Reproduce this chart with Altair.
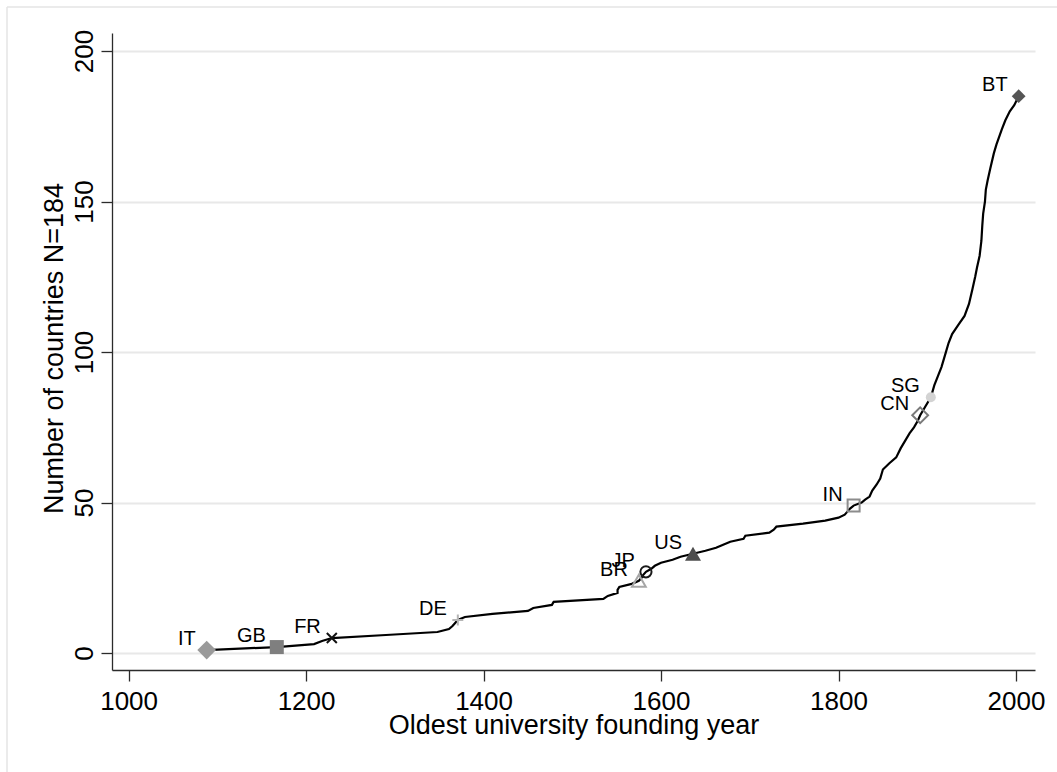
import altair as alt
import pandas as pd

# Cumulative number of countries against the founding year of each country's oldest university
curve_years = [1088, 1167, 1209, 1218, 1229, 1290, 1348, 1361, 1365, 1368, 1371, 1379, 1410,
               1450, 1456, 1477, 1479, 1535, 1540, 1551, 1551, 1553, 1567, 1575, 1578, 1580,
               1583, 1589, 1593, 1600, 1613, 1622, 1636, 1650, 1662, 1670, 1678, 1693, 1695,
               1722, 1727, 1730, 1760, 1785, 1800, 1807, 1810, 1813, 1817, 1826, 1830, 1835,
               1838, 1843, 1847, 1850, 1857, 1865, 1870, 1876, 1880, 1885, 1889, 1892, 1898,
               1904, 1908, 1912, 1916, 1919, 1921, 1924, 1928, 1935, 1942, 1947, 1951, 1954,
               1956, 1959, 1961, 1962, 1963, 1965, 1966, 1968, 1971, 1975, 1978, 1984, 1988,
               1993, 1998, 2003]
curve_counts = [1, 2, 3, 4, 5, 6, 7, 8, 9, 10, 11, 12, 13,
                14, 15, 16, 17, 18, 19, 20, 21, 22, 23, 24, 25, 26,
                27, 28, 29, 30, 31, 32, 33, 34, 35, 36, 37, 38, 39,
                40, 41, 42, 43, 44, 45, 46, 47, 48, 49, 50, 51, 52,
                54, 56, 58, 61, 63, 65, 68, 71, 73, 75, 77, 79, 82,
                85, 89, 92, 95, 98, 100, 103, 106, 109, 112, 116, 121, 125,
                128, 132, 137, 142, 146, 150, 154, 157, 161, 166, 169, 174, 177,
                180, 182, 185]

# Highlighted countries
codes = ["IT", "GB", "FR", "DE", "BR", "JP", "US", "IN", "CN", "SG", "BT"]
code_years = [1088, 1167, 1229, 1371, 1575, 1583, 1636, 1817, 1892, 1904, 2003]
code_counts = [1, 2, 5, 11, 24, 27, 33, 49, 79, 85, 185]

x_ticks = [1000, 1200, 1400, 1600, 1800, 2000]
y_ticks = [0, 50, 100, 150, 200]

curve = pd.DataFrame({"year": curve_years, "count": curve_counts})
marks = pd.DataFrame({"code": codes, "year": code_years, "count": code_counts})

FONT = "Liberation Sans"
AXIS_COLOR = "#2b2b2b"

X = alt.X(
    "year:Q",
    scale=alt.Scale(domain=[981.3, 2021.4], nice=False, zero=False),
    axis=alt.Axis(
        values=x_ticks, format="d", grid=False,
        labelFontSize=26, labelFont=FONT, labelColor="black",
        labelBaseline="alphabetic", labelPadding=28, labelFlush=False, labelOverlap=False,
        tickSize=11, tickColor=AXIS_COLOR, tickWidth=1.3,
        domainColor=AXIS_COLOR, domainWidth=1.3,
        title="Oldest university founding year", titleFontSize=27, titleFont=FONT,
        titleFontWeight="normal", titleColor="black",
        titleBaseline="alphabetic", titleY=63,
    ),
)
Y = alt.Y(
    "count:Q",
    scale=alt.Scale(domain=[-5.62, 206.0], nice=False, zero=False),
    axis=alt.Axis(
        values=y_ticks, format="d", grid=True, gridColor="#e8e8e8", gridWidth=2,
        labelFontSize=26, labelFont=FONT, labelColor="black",
        labelAngle=270, labelAlign="center", labelBaseline="alphabetic",
        labelPadding=9, labelFlush=False, labelOverlap=False,
        tickSize=11, tickColor=AXIS_COLOR, tickWidth=1.3,
        domainColor=AXIS_COLOR, domainWidth=1.3,
        title="Number of countries N=184", titleFontSize=27, titleFont=FONT,
        titleFontWeight="normal", titleColor="black",
        titleAngle=270, titleBaseline="alphabetic", titleX=-50, titleY=315,
    ),
)

# Light outer frame: only its left and top edges fall inside the figure
blank = alt.Data(values=[{}])
frame_left = alt.Chart(blank).mark_rule(stroke="#e4e4e4", strokeWidth=1.5).encode(
    x=alt.value(-105), y=alt.value(-26), y2=alt.value(760)
)
frame_top = alt.Chart(blank).mark_rule(stroke="#e4e4e4", strokeWidth=1.5).encode(
    x=alt.value(-105), x2=alt.value(960), y=alt.value(-26)
)

line = alt.Chart(curve).mark_line(color="black", strokeWidth=2.2).encode(x=X, y=Y)

X_PATH = "M-1,-1L1,1M-1,1L1,-1"
PLUS_PATH = "M-1,0L1,0M0,-1L0,1"

# shape, filled, colour, size
styles = {
    "IT": ("diamond", True, "#9a9a9a", 350),
    "GB": ("square", True, "#7f7f7f", 196),
    "FR": (X_PATH, False, "#111111", 100),
    "DE": (PLUS_PATH, False, "#b5b5b5", 120),
    "BR": ("triangle-up", False, "#a6a6a6", 190),
    "JP": ("circle", False, "#1a1a1a", 125),
    "US": ("triangle-up", True, "#4d4d4d", 256),
    "IN": ("square", False, "#8c8c8c", 144),
    "CN": ("diamond", False, "#7a7a7a", 250),
    "SG": ("circle", True, "#d3d3d3", 100),
    "BT": ("diamond", True, "#555555", 190),
}

point_layers = []
for code in codes:
    shape, filled, colour, size = styles[code]
    kwargs = dict(shape=shape, size=size, filled=filled, opacity=1)
    if filled:
        kwargs.update(fill=colour, strokeWidth=0)
    else:
        kwargs.update(stroke=colour, strokeWidth=2, fill=None)
    point_layers.append(
        alt.Chart(marks).transform_filter(alt.datum.code == code)
        .mark_point(**kwargs).encode(x=X, y=Y)
    )

labels = alt.Chart(marks).mark_text(
    align="right", baseline="alphabetic", dx=-11, dy=-5,
    fontSize=20, font=FONT, color="black"
).encode(x=X, y=Y, text="code:N")

chart = alt.layer(frame_left, frame_top, line, *point_layers, labels).properties(
    width=923, height=637,
    autosize=alt.AutoSizeParams(type="none"),
    padding={"left": 112, "top": 33, "right": 22, "bottom": 102},
    background="white",
).configure_view(stroke=None)

chart.save("out.html", embed_options={"renderer": "svg", "actions": False})
